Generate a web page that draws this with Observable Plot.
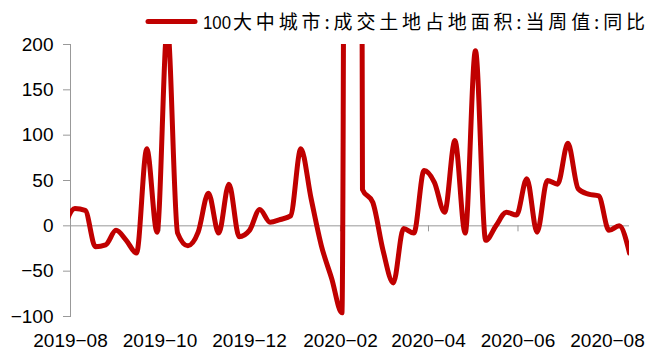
<!DOCTYPE html>
<html>
<head>
<meta charset="utf-8">
<script src="https://cdn.jsdelivr.net/npm/d3@7"></script>
<script src="https://cdn.jsdelivr.net/npm/@observablehq/plot@0.6"></script>
<style>
  html, body { margin: 0; padding: 0; background: #fff; }
  #chart { width: 652px; }
  #legend { display: block; overflow: visible; }
</style>
</head>
<body>
<div id="chart"></div>
<script>
// Weekly series: 100 large & mid-size cities, land transactions (site area), week value, YoY %
const seriesPrefix = "100";
const seriesRest = "大中城市:成交土地占地面积:当周值:同比";

const weeks = [
  "2019-07-28", "2019-08-04", "2019-08-11", "2019-08-18", "2019-08-25",
  "2019-09-01", "2019-09-08", "2019-09-15", "2019-09-22", "2019-09-29",
  "2019-10-06", "2019-10-13", "2019-10-20", "2019-10-27", "2019-11-03",
  "2019-11-10", "2019-11-17", "2019-11-24", "2019-12-01", "2019-12-08",
  "2019-12-15", "2019-12-22", "2019-12-29", "2020-01-05", "2020-01-12",
  "2020-01-19", "2020-01-26", "2020-02-02", "2020-02-09", "2020-02-16",
  "2020-02-23", "2020-03-01", "2020-03-08", "2020-03-15", "2020-03-22",
  "2020-03-29", "2020-04-05", "2020-04-12", "2020-04-19", "2020-04-26",
  "2020-05-03", "2020-05-10", "2020-05-17", "2020-05-24", "2020-05-31",
  "2020-06-07", "2020-06-14", "2020-06-21", "2020-06-28", "2020-07-05",
  "2020-07-12", "2020-07-19", "2020-07-26", "2020-08-02", "2020-08-09",
  "2020-08-16"
];

const yoy = [
    0,  19,  17, -23, -21,
   -5, -16, -30,  85,  -7,
  220,  -8, -22,  -7,  36,
   -8,  46, -12,  -5,  18,
    4,   7,  11,  85,  30,
  -22, -58, -96, 5000, 40,
   26, -27, -63,  -3,  -8,
   61,  48,  15,  94,  -8,
  193, -16,   0,  15,  12,
   52,  -7,  50,  46,  91,
   41,  35,  33,  -5,   0,
  -30
];

const xTickMonths = ["2019-08", "2019-10", "2019-12", "2020-02", "2020-04", "2020-06", "2020-08"];
const yTicks = [-100, -50, 0, 50, 100, 150, 200];

const lineColor = "#c00000";
const axisColor = "#999999";

const rows = weeks.map((w, i) => ({date: new Date(w + "T00:00:00Z"), value: yoy[i]}));
const tickDates = xTickMonths.map((m) => new Date(m + "-01T00:00:00Z"));
const monthLabel = d3.utcFormat("%Y-%m");
const minus = (s) => String(s).replace("-", "\u2212");

// Legend row above the plot
const NS = "http://www.w3.org/2000/svg";
function svgEl(tag, attrs) {
  const el = document.createElementNS(NS, tag);
  for (const [k, v] of Object.entries(attrs)) el.setAttribute(k, v);
  return el;
}
const legend = svgEl("svg", {id: "legend", width: 652, height: 36});
legend.appendChild(svgEl("line", {
  x1: 148, x2: 195, y1: 21.5, y2: 21.5,
  stroke: lineColor, "stroke-width": 5, "stroke-linecap": "round"
}));
const lead = svgEl("text", {
  x: 203, y: 29, "font-size": 19, fill: "#000",
  "font-family": "'Liberation Sans', Arial, sans-serif",
  textLength: 28, lengthAdjust: "spacingAndGlyphs"
});
lead.textContent = seriesPrefix;
legend.appendChild(lead);
const rest = svgEl("text", {
  x: 233, y: 29, "font-size": 19, fill: "#000",
  "font-family": "'Noto Sans CJK SC', sans-serif"
});
rest.textContent = seriesRest;
legend.appendChild(rest);

const chart = Plot.plot({
  width: 652,
  height: 314,
  marginTop: 8,
  marginBottom: 34,
  marginLeft: 70,
  marginRight: 23,
  style: {
    fontFamily: "'Liberation Sans', Arial, sans-serif",
    fontSize: "19px",
    color: "#000",
    background: "#fff",
    overflow: "visible"
  },
  x: {type: "utc", domain: [new Date("2019-08-01T00:00:00Z"), new Date("2020-08-16T00:00:00Z")]},
  y: {domain: [-100, 200]},
  marks: [
    Plot.frame({anchor: "left", stroke: axisColor}),
    Plot.ruleY([0], {stroke: axisColor}),
    Plot.ruleX(tickDates, {x: (d) => d, y1: 0, y2: 0, insetBottom: -6, stroke: axisColor}),
    Plot.axisY({
      ticks: yTicks,
      tickSize: 7,
      tickPadding: 10,
      stroke: axisColor,
      fill: "#000",
      tickFormat: minus,
      label: null
    }),
    Plot.axisX({
      ticks: tickDates,
      tickSize: 0,
      tickPadding: 17,
      fill: "#000",
      tickFormat: (d) => minus(monthLabel(d)),
      label: null
    }),
    Plot.line(rows, {
      x: "date",
      y: "value",
      stroke: lineColor,
      strokeWidth: 5,
      curve: "monotone-x",
      clip: true
    })
  ]
});

const root = document.getElementById("chart");
root.appendChild(legend);
root.appendChild(chart);

// Spread the legend label so its last glyph ends near the right edge
const natural = rest.getComputedTextLength();
const gaps = [...seriesRest].length - 1;
rest.setAttribute("letter-spacing", Math.max(0, (412 - natural) / gaps).toFixed(2));
</script>
</body>
</html>
